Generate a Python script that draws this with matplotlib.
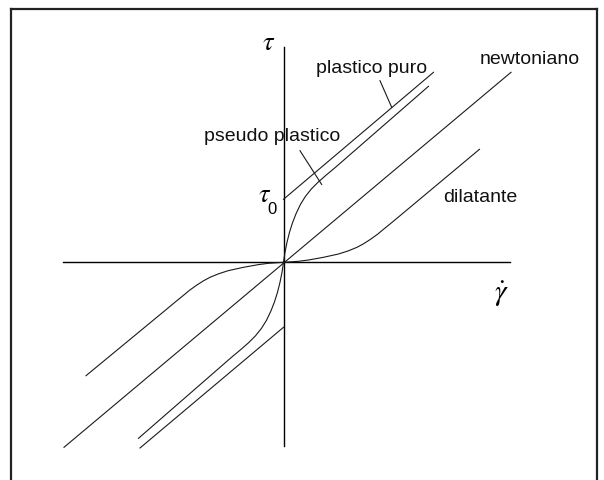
import matplotlib
matplotlib.use("Agg")
import matplotlib.pyplot as plt
from matplotlib.lines import Line2D

plt.rcParams['mathtext.fontset'] = 'stix'

# ---- data (shear rate gamma_dot, shear stress tau; arbitrary units) ----
axis_x = [-22.05, 22.65]          # extent of the gamma_dot axis
axis_y = [-18.37, 21.53]          # extent of the tau axis

newt_g = [-21.95, 22.75]
newt_t = [-18.5, 19.0]

plast_up_g = [0.0, 15.0]
plast_up_t = [6.3, 19.0]
plast_lo_g = [0.0, -14.35]
plast_lo_t = [-6.5, -18.57]

pseudo_up_g = [0, 0.15, 0.35, 0.6, 0.9, 1.25, 1.7, 2.2, 2.8, 3.5, 4.3, 5.2, 14.5]
pseudo_up_t = [0, 1.0, 2.0, 3.0, 3.95, 4.85, 5.8, 6.6, 7.35, 8.05, 8.75, 9.5, 17.6]
pseudo_lo_g = [0, -0.15, -0.35, -0.6, -0.9, -1.25, -1.7, -2.2, -2.8, -3.5, -4.3, -5.2, -14.5]
pseudo_lo_t = [0, -1.0, -2.0, -3.0, -3.95, -4.85, -5.8, -6.6, -7.35, -8.05, -8.75, -9.5, -17.6]

dil_up_g = [0, 1.5, 2.5, 4.0, 5.5, 6.5, 7.35, 8.0, 8.7, 9.4, 10.0, 10.8, 11.7, 19.6]
dil_up_t = [0, 0.1, 0.23, 0.5, 0.83, 1.15, 1.5, 1.85, 2.3, 2.8, 3.3, 3.95, 4.7, 11.3]
dil_lo_g = [0, -1.5, -2.5, -4.0, -5.5, -6.5, -7.35, -8.0, -8.7, -9.4, -10.0, -10.8, -11.7, -19.75]
dil_lo_t = [0, -0.1, -0.23, -0.5, -0.83, -1.15, -1.5, -1.85, -2.3, -2.8, -3.3, -3.95, -4.7, -11.34]

labels = ["plastico puro", "newtoniano", "pseudo plastico", "dilatante"]

# ---- figure ----
W, H = 604, 481
fig = plt.figure(figsize=(W / 100, H / 100), dpi=100)
ax = fig.add_axes([0, 0, 1, 1])
ax.set_xlim(-28.35, 32.05)
ax.set_ylim(-21.77, 26.33)
ax.axis('off')

lc = '#1a1a1a'
lw = 0.8

# axes
ax.plot(axis_x, [0, 0], color='black', lw=1.0)
ax.plot([0, 0], axis_y, color='black', lw=1.0)

# curves
ax.plot(newt_g, newt_t, color=lc, lw=lw)
ax.plot(plast_up_g, plast_up_t, color=lc, lw=lw)
ax.plot(plast_lo_g, plast_lo_t, color=lc, lw=lw)
ax.plot(pseudo_up_g, pseudo_up_t, color=lc, lw=lw)
ax.plot(pseudo_lo_g, pseudo_lo_t, color=lc, lw=lw)
ax.plot(dil_up_g, dil_up_t, color=lc, lw=lw)
ax.plot(dil_lo_g, dil_lo_t, color=lc, lw=lw)

# leader lines
ax.plot([9.65, 10.82], [18.16, 15.5], color=lc, lw=lw)
ax.plot([1.65, 3.82], [11.16, 7.78], color=lc, lw=lw)

# texts
tf = dict(family='Liberation Sans', fontsize=14, color='#111111')
ax.text(8.85, 19.43, labels[0], ha='center', va='center', **tf)
ax.text(24.65, 20.33, labels[1], ha='center', va='center', **tf)
ax.text(-1.15, 12.63, labels[2], ha='center', va='center', **tf)
ax.text(19.65, 6.63, labels[3], ha='center', va='center', **tf)

ax.text(-1.52, 22.0, r'$\tau$', ha='center', va='center', fontsize=19)
ax.text(-1.85, 6.83, r'$\tau$', ha='center', va='center', fontsize=19)
ax.text(-1.15, 5.4, '0', ha='center', va='center', family='Liberation Sans', fontsize=12)
ax.text(21.75, -3.07, r'$\dot{\gamma}$', ha='center', va='center', fontsize=21)

# outer frame
fx0, fx1 = 11 / W, 597 / W
fy0 = 1 - 9.5 / H
frame_kw = dict(color='#222222', lw=1.6, transform=fig.transFigure)
fig.add_artist(Line2D([fx0, fx1], [fy0, fy0], **frame_kw))
fig.add_artist(Line2D([fx0, fx0], [0, fy0], **frame_kw))
fig.add_artist(Line2D([fx1, fx1], [0, fy0], **frame_kw))

fig.savefig('out.png', dpi=100)
